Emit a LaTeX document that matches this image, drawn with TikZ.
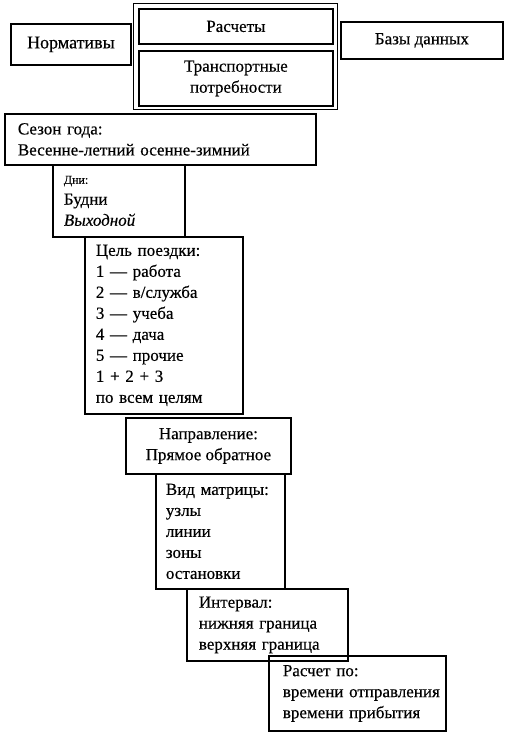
\documentclass[tikz,border=0pt]{standalone}
\usepackage{fontspec}
\setmainfont{Liberation Serif}[FakeBold=0.4]
\begin{document}
\begin{tikzpicture}[x=1pt,y=-1pt,
  box/.style={draw, line width=1.8pt, rectangle, inner sep=0pt,
    font=\fontsize{17}{21}\selectfont},
  cbox/.style={box, align=center, anchor=north west},
  lbox/.style={box, align=left, anchor=north west, inner xsep=11pt}]
\useasboundingbox (0,0) rectangle (506,734);
\fill[white] (0,0) rectangle (506,734);

\node[box, line width=1.4pt, anchor=north west, minimum width=204pt, minimum height=106pt] (outer) at (133,3) {};
\node[cbox, minimum width=120pt, minimum height=41pt, font=\fontsize{18}{21}\selectfont] (norm) at (10,23) {Нормативы};
\node[cbox, minimum width=194pt, minimum height=35pt] (rasch) at (138,8) {Расчеты};
\node[cbox, minimum width=194pt, minimum height=55pt] (trans) at (138,50) {Транспортные\\потребности};
\node[cbox, minimum width=162pt, minimum height=37pt] (bazy) at (340,21) {Базы данных};

\node[lbox, inner xsep=13pt, minimum width=311pt, minimum height=51pt, text width=285pt] (sezon) at (4,113)
  {Сезон года:\\Весенне-летний осенне-зимний};
\node[lbox, minimum width=132pt, minimum height=72pt, text width=110pt] (dni) at (52,164)
  {{\fontsize{12}{15}\selectfont Дни:}\\Будни\\\textit{Выходной}};
\node[lbox, minimum width=158pt, minimum height=177pt, text width=136pt] (cel) at (84,236)
  {Цель поездки:\\1 — работа\\2 — в/служба\\3 — учеба\\4 — дача\\5 — прочие\\1 + 2 + 3\\по всем целям};
\node[cbox, minimum width=165pt, minimum height=56pt] (napr) at (125,417)
  {Направление:\\Прямое обратное};
\node[lbox, inner xsep=10pt, minimum width=129pt, minimum height=115pt, text width=109pt] (vid) at (155,473)
  {Вид матрицы:\\узлы\\линии\\зоны\\остановки};
\node[lbox, inner xsep=12pt, minimum width=161pt, minimum height=72pt, text width=137pt] (interval) at (186,588)
  {Интервал:\\нижняя~граница\\верхняя~граница};
\node[lbox, inner xsep=14pt, minimum width=177pt, minimum height=75pt, text width=149pt] (raschet) at (268,655)
  {Расчет по:\\времени~отправления\\времени~прибытия};
\end{tikzpicture}
\end{document}
